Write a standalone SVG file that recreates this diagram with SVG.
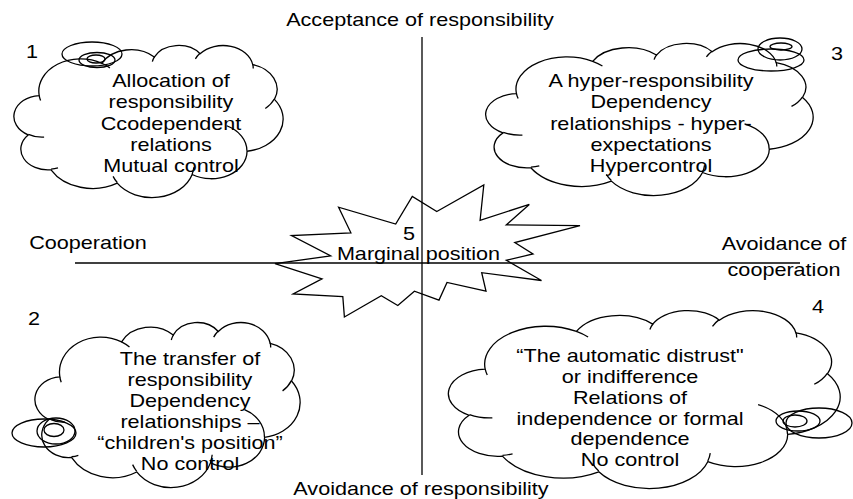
<svg xmlns="http://www.w3.org/2000/svg" xmlns:xlink="http://www.w3.org/1999/xlink" width="853" height="499" viewBox="0 0 853 499">
<style>
.ln{stroke:#000;stroke-width:1.3;fill:none}
.cl{stroke:#000;stroke-width:1.3;fill:none;vector-effect:non-scaling-stroke}
.t{font-family:"Liberation Sans",Arial,sans-serif;font-size:18px;fill:#000;text-anchor:middle}
</style>
<defs>
<g id="cloud">
<path class="cl" d="M9.03 33.26A15.63 21.27 0 0 1 32.42 12.04A12.34 16.82 0 0 1 51.98 7.94A10.10 13.76 0 0 1 69.06 5.73A11.24 15.27 0 0 1 88.70 12.90A12.34 16.84 0 0 1 96.80 35.78A15.68 21.34 0 0 1 86.59 69.91A13.39 18.21 0 0 1 66.10 85.21A15.63 21.33 0 0 1 38.15 90.89A17.87 24.41 0 0 1 13.44 82.10A10.09 13.70 0 0 1 4.90 59.13A10.06 13.76 0 0 1 9.03 33.26Z"/>
<path class="cl" d="M10.86 60.60A10.06 13.76 0 0 1 5.00 58.75M16.04 80.78A10.09 13.70 0 0 1 13.47 81.67M38.14 90.49A15.63 21.33 0 0 1 36.60 86.45M66.73 80.44A15.63 21.33 0 0 1 66.11 84.86M79.00 53.13A13.39 18.21 0 0 1 86.53 69.65M96.75 35.54A12.34 16.84 0 0 1 93.40 41.74M88.71 12.56A11.24 15.27 0 0 1 88.89 15.48M67.31 9.15A11.24 15.27 0 0 1 69.03 5.42M51.25 10.93A10.10 13.76 0 0 1 52.08 7.71M32.41 12.02A15.63 21.27 0 0 1 35.41 15.14M9.55 36.55A15.63 21.27 0 0 1 9.03 33.26"/>
</g>
</defs>
<g id="connectors">
<line class="ln" x1="422" y1="37" x2="422" y2="475"/>
<line class="ln" x1="75" y1="263" x2="800" y2="263"/>
</g>
<g id="axis-labels">
<text class="t" transform="translate(420 26) scale(1.2 1)">Acceptance of responsibility</text>
<text class="t" transform="translate(421 495) scale(1.2 1)">Avoidance of responsibility</text>
<text class="t" transform="translate(88 249) scale(1.2 1)">Cooperation</text>
<text class="t" transform="translate(784 250) scale(1.2 1)">Avoidance of</text>
<text class="t" transform="translate(784 276) scale(1.2 1)">cooperation</text>
</g>
<g id="node1">
<use xlink:href="#cloud" transform="translate(15 45) scale(2.68 1.52)"/>
<ellipse class="ln" cx="92" cy="54" rx="30" ry="12"/>
<ellipse class="ln" cx="97" cy="60" rx="18" ry="7.5"/>
<ellipse class="ln" cx="96" cy="59" rx="9" ry="4"/>
<text class="t" transform="translate(32 58) scale(1.2 1)">1</text>
<text class="t" transform="translate(171 87) scale(1.2 1)">Allocation of</text>
<text class="t" transform="translate(171 108) scale(1.2 1)">responsibility</text>
<text class="t" transform="translate(171 129.5) scale(1.2 1)">Ccodependent</text>
<text class="t" transform="translate(171 151) scale(1.2 1)">relations</text>
<text class="t" transform="translate(171 172) scale(1.2 1)">Mutual control</text>
</g>
<g id="node3">
<use xlink:href="#cloud" transform="translate(487 43) scale(3.26 1.52)"/>
<ellipse class="ln" cx="771" cy="60" rx="33" ry="11"/>
<ellipse class="ln" cx="780" cy="49" rx="22" ry="11"/>
<ellipse class="ln" cx="781" cy="46.5" rx="11" ry="3.5"/>
<text class="t" transform="translate(837 60) scale(1.2 1)">3</text>
<text class="t" transform="translate(651 87) scale(1.2 1)">A hyper-responsibility</text>
<text class="t" transform="translate(651 108) scale(1.2 1)">Dependency</text>
<text class="t" transform="translate(651 129.5) scale(1.2 1)">relationships - hyper-</text>
<text class="t" transform="translate(651 151) scale(1.2 1)">expectations</text>
<text class="t" transform="translate(651 172) scale(1.2 1)">Hypercontrol</text>
</g>
<g id="node2">
<use xlink:href="#cloud" transform="translate(36 322) scale(2.64 1.65)"/>
<ellipse class="ln" cx="44" cy="433" rx="32" ry="14"/>
<ellipse class="ln" cx="56" cy="431" rx="19" ry="13"/>
<ellipse class="ln" cx="54" cy="430" rx="10" ry="6.5"/>
<text class="t" transform="translate(34 325) scale(1.2 1)">2</text>
<text class="t" transform="translate(190 365) scale(1.2 1)">The transfer of</text>
<text class="t" transform="translate(190 386) scale(1.2 1)">responsibility</text>
<text class="t" transform="translate(190 407) scale(1.2 1)">Dependency</text>
<text class="t" transform="translate(190 428) scale(1.2 1)">relationships –</text>
<text class="t" transform="translate(190 449) scale(1.2 1)">“children's position”</text>
<text class="t" transform="translate(190 470) scale(1.2 1)">No control</text>
</g>
<g id="node4">
<use xlink:href="#cloud" transform="translate(450 310) scale(3.90 1.78)"/>
<ellipse class="ln" cx="819" cy="423" rx="33" ry="15"/>
<ellipse class="ln" cx="798" cy="421" rx="22" ry="10"/>
<ellipse class="ln" cx="795" cy="421" rx="12" ry="6"/>
<text class="t" transform="translate(818 313) scale(1.2 1)">4</text>
<text class="t" transform="translate(630 362) scale(1.2 1)">“The automatic distrust"</text>
<text class="t" transform="translate(630 383) scale(1.2 1)">or indifference</text>
<text class="t" transform="translate(630 404) scale(1.2 1)">Relations of</text>
<text class="t" transform="translate(630 424.5) scale(1.2 1)">independence or formal</text>
<text class="t" transform="translate(630 445) scale(1.2 1)">dependence</text>
<text class="t" transform="translate(630 466) scale(1.2 1)">No control</text>
</g>
<g id="node5">
<polygon class="ln" points="436.8,211.5 483.8,185 480.1,220.3 529.3,204.4 506.3,224.9 580,225.6 514.8,242.5 533,254 506.3,260.2 541.5,280.5 481.7,272.7 486,291.2 447,282.4 439,300.1 414.4,291.2 397.8,305.5 381.3,295.8 344.4,317 342.8,296.5 293.1,293.9 322,278.9 275,263.7 330.6,255.8 291.5,235.5 350.9,232.8 338.6,207.2 395.7,224 412.3,196.5"/>
<text class="t" transform="translate(409 240) scale(1.2 1)">5</text>
<text class="t" transform="translate(418.5 260) scale(1.2 1)">Marginal position</text>
</g>
</svg>
